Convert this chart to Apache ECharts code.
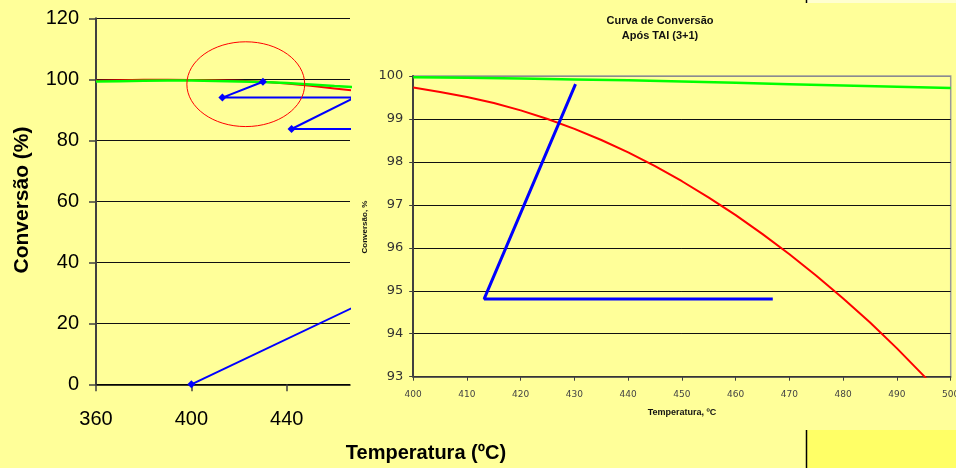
<!DOCTYPE html>
<html><head><meta charset="utf-8">
<script src="https://cdn.jsdelivr.net/npm/echarts@6/dist/echarts.min.js"></script>
<style>html,body{margin:0;padding:0;background:#FFFF99;}#c{width:956px;height:468px;}</style>
</head><body><div id="c"></div>
<script>
// ---------- Left (overview) chart data ----------
const leftTempTicks = [360, 400, 440];
const leftTemps   = [360, 370, 380, 390, 400, 410, 420, 430, 440, 450, 460, 470];
const leftRed     = [99.5, 99.7, 99.85, 99.85, 99.8, 99.7, 99.5, 99.2, 98.6, 97.9, 97.0, 96.1];
const leftGreen   = [99.3, 99.4, 99.5, 99.6, 99.6, 99.45, 99.3, 99.1, 98.8, 98.3, 97.8, 97.4];
// blue adiabatic/cooling paths (continue beyond the visible area)
const leftBlueBed1T = [400, 470];
const leftBlueBed1V = [0, 26.0];
const leftBlueT = [470, 442, 468.5, 413, 430];
const leftBlueV = [83.7, 83.7, 94.0, 94.0, 99.2];
// highlight ellipse (data units): centre temp, centre conv, half-width temp, half-height conv
const ellipseCenter = [422.8, 98.4];
const ellipseHalf = [24.7, 13.9];

// ---------- Right (zoomed) chart data ----------
const rightTemps = [400, 405, 410, 415, 420, 425, 430, 435, 440, 445, 450, 455, 460, 465, 470, 475, 480, 485, 490, 495, 500];
const rightRed   = [99.73, 99.63, 99.51, 99.37, 99.20, 99.00, 98.77, 98.51, 98.22, 97.90, 97.55, 97.17, 96.76, 96.32, 95.85, 95.35, 94.82, 94.26, 93.66, 93.02, 92.36];
const rightGreenT = [400, 410, 420, 430, 440, 450, 460, 470, 480, 490, 500];
const rightGreenV = [99.97, 99.96, 99.94, 99.92, 99.90, 99.87, 99.84, 99.81, 99.78, 99.75, 99.72];
const rightBlueT = [430.2, 413.2, 466.9];
const rightBlueV = [99.81, 94.81, 94.81];

const pairs = (xs, ys) => xs.map((x, i) => [x, ys[i]]);
const ARIAL = 'Liberation Sans, Arial, sans-serif';
const VERD = 'DejaVu Sans, Verdana, sans-serif';

const chart = echarts.init(document.getElementById('c'), null, {renderer: 'canvas'});
const option = {
  backgroundColor: '#FFFF99',
  animation: false,
  grid: [
    {left: 96, top: 18.3, width: 254, height: 366, containLabel: false, outerBoundsMode: 'none'},
    {left: 413.2, top: 76, width: 537.5, height: 300.7, containLabel: false, outerBoundsMode: 'none',
     show: true, backgroundColor: 'transparent', borderColor: '#9a9a9a', borderWidth: 1.5}
  ],
  xAxis: [
    {gridIndex: 0, type: 'value', min: 360, max: 466.5, interval: 40,
     axisLine: {show: true, onZero: false, lineStyle: {color: '#000', width: 1.5}},
     axisTick: {show: true, length: 7, customValues: leftTempTicks, lineStyle: {color: '#404040', width: 1.5}},
     axisLabel: {customValues: leftTempTicks, margin: 25, fontSize: 20, color: '#000', fontFamily: ARIAL},
     splitLine: {show: false}},
    {gridIndex: 1, type: 'value', min: 400, max: 500, interval: 10,
     axisLine: {show: true, onZero: false, lineStyle: {color: '#404040', width: 1.5}},
     axisTick: {show: true, length: 4, lineStyle: {color: '#404040', width: 1}},
     axisLabel: {margin: 13, fontSize: 9, color: '#444', fontFamily: VERD, showMaxLabel: true},
     splitLine: {show: false}}
  ],
  yAxis: [
    {gridIndex: 0, type: 'value', min: 0, max: 120, interval: 20,
     axisLine: {show: true, onZero: false, lineStyle: {color: '#404040', width: 2}},
     axisTick: {show: true, length: 7, lineStyle: {color: '#404040', width: 1.5}},
     axisLabel: {margin: 17, fontSize: 20, color: '#000', fontFamily: ARIAL},
     splitLine: {show: true, lineStyle: {color: '#111', width: 1}}},
    {gridIndex: 1, type: 'value', min: 93, max: 100, interval: 1,
     axisLine: {show: true, onZero: false, lineStyle: {color: '#404040', width: 2}},
     axisTick: {show: true, length: 4, lineStyle: {color: '#404040', width: 1}},
     axisLabel: {margin: 10, fontSize: 13, color: '#333', fontFamily: VERD},
     splitLine: {show: true, lineStyle: {color: ['#111', '#111', '#111', '#111', '#111', '#111', '#111', '#8c8c8c'], width: 1}}}
  ],
  series: [
    {type: 'line', xAxisIndex: 0, yAxisIndex: 0, data: pairs(leftTemps, leftRed), symbol: 'none',
     lineStyle: {color: '#FF0000', width: 2}},
    {type: 'line', xAxisIndex: 0, yAxisIndex: 0, data: pairs(leftTemps, leftGreen), symbol: 'none',
     lineStyle: {color: '#00FF00', width: 2.5}},
    {type: 'line', xAxisIndex: 0, yAxisIndex: 0, data: pairs(leftBlueBed1T, leftBlueBed1V),
     symbol: 'diamond', symbolSize: 8, itemStyle: {color: '#0000FF'}, lineStyle: {color: '#0000FF', width: 2}},
    {type: 'line', xAxisIndex: 0, yAxisIndex: 0, data: pairs(leftBlueT, leftBlueV),
     symbol: 'diamond', symbolSize: 8, itemStyle: {color: '#0000FF'}, lineStyle: {color: '#0000FF', width: 2}},

    {type: 'line', xAxisIndex: 1, yAxisIndex: 1, data: pairs(rightTemps, rightRed), symbol: 'none',
     lineStyle: {color: '#FF0000', width: 2}},
    {type: 'line', xAxisIndex: 1, yAxisIndex: 1, data: pairs(rightGreenT, rightGreenV), symbol: 'none',
     lineStyle: {color: '#00FF00', width: 2.5}},
    {type: 'line', xAxisIndex: 1, yAxisIndex: 1, data: pairs(rightBlueT, rightBlueV), symbol: 'none',
     lineStyle: {color: '#0000FF', width: 3}}
  ]
};
chart.setOption(option);

const c = chart.convertToPixel({gridIndex: 0}, ellipseCenter);
const e = chart.convertToPixel({gridIndex: 0}, [ellipseCenter[0] + ellipseHalf[0], ellipseCenter[1] + ellipseHalf[1]]);
const rg = chart.convertToPixel({gridIndex: 1}, [450, 93]);

chart.setOption({
  graphic: [
    {type: 'ellipse', z: 100, shape: {cx: c[0], cy: c[1], rx: e[0] - c[0], ry: c[1] - e[1]},
     style: {fill: 'none', stroke: '#FF0000', lineWidth: 1}},
    // left chart axis titles
    {type: 'text', x: 22, y: 200, rotation: Math.PI / 2, z: 50,
     style: {text: 'Conversão (%)', font: 'bold 21px ' + ARIAL, fill: '#000', textAlign: 'center', textVerticalAlign: 'middle'}},
    {type: 'text', x: 426, y: 453, z: 50,
     style: {text: 'Temperatura (ºC)', font: 'bold 20px ' + ARIAL, fill: '#000', textAlign: 'center', textVerticalAlign: 'middle'}},
    // right chart titles
    {type: 'text', x: 660, y: 21, z: 50,
     style: {text: 'Curva de Conversão', font: 'bold 11px ' + ARIAL, fill: '#111', textAlign: 'center', textVerticalAlign: 'middle'}},
    {type: 'text', x: 660, y: 36, z: 50,
     style: {text: 'Após TAI (3+1)', font: 'bold 11px ' + ARIAL, fill: '#111', textAlign: 'center', textVerticalAlign: 'middle'}},
    {type: 'text', x: 365, y: 227, rotation: Math.PI / 2, z: 50,
     style: {text: 'Conversão, %', font: 'bold 8px ' + ARIAL, fill: '#111', textAlign: 'center', textVerticalAlign: 'middle'}},
    {type: 'text', x: rg[0], y: 413, z: 50,
     style: {text: 'Temperatura, ºC', font: 'bold 9px ' + ARIAL, fill: '#111', textAlign: 'center', textVerticalAlign: 'middle'}},
    // slide background fragments
    {type: 'rect', z: 1, shape: {x: 806.5, y: 430, width: 150, height: 38}, style: {fill: '#FFFF66'}},
    {type: 'line', z: 2, shape: {x1: 806.5, y1: 430, x2: 806.5, y2: 468}, style: {stroke: '#000', lineWidth: 1.5}},
    {type: 'rect', z: 1, shape: {x: 807, y: 0, width: 149, height: 3}, style: {fill: '#FFFFD0'}},
    {type: 'line', z: 2, shape: {x1: 806.5, y1: 0, x2: 806.5, y2: 3}, style: {stroke: '#000', lineWidth: 1.5}}
  ]
});
</script>
</body></html>
